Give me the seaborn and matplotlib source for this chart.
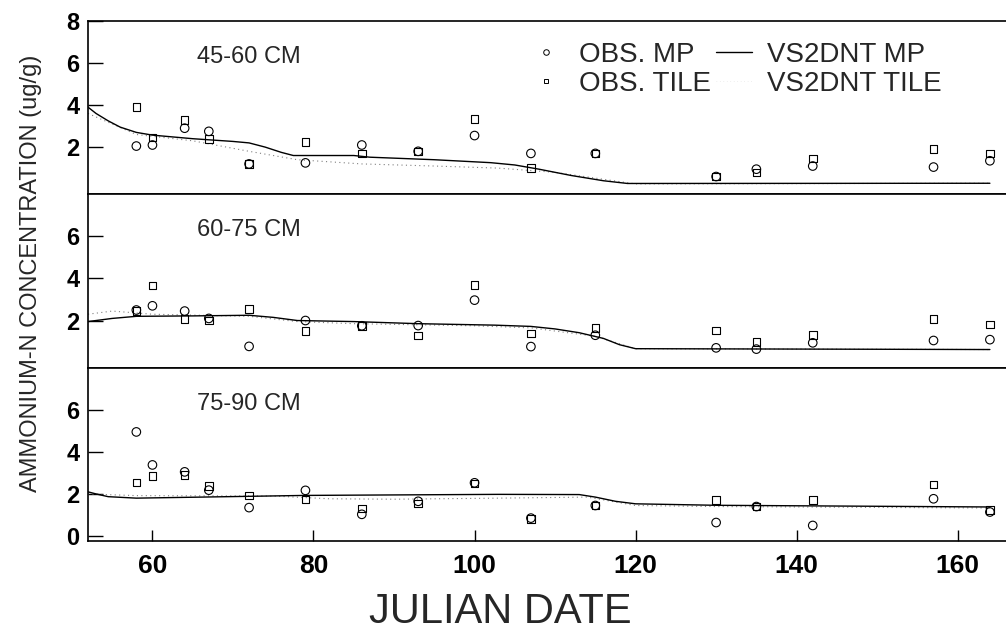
import matplotlib
matplotlib.use("Agg")
import matplotlib.pyplot as plt
import seaborn as sns
import pandas as pd
from matplotlib.lines import Line2D

# ---------------- data ----------------
obs_days = [58, 60, 64, 67, 72, 79, 86, 93, 100, 107, 115, 130, 135, 142, 157, 164]

obs_mp_45_60 = [2.05, 2.1, 2.9, 2.75, 1.2, 1.25, 2.1, 1.8, 2.55, 1.7, 1.7, 0.6, 0.95, 1.1, 1.05, 1.35]
obs_tile_45_60 = [3.9, 2.45, 3.3, 2.4, 1.2, 2.25, 1.7, 1.8, 3.35, 1.0, 1.7, 0.6, 0.8, 1.45, 1.9, 1.7]

obs_mp_60_75 = [2.5, 2.7, 2.45, 2.1, 0.77, 2.0, 1.75, 1.76, 2.97, 0.76, 1.3, 0.7, 0.64, 0.94, 1.05, 1.09]
obs_tile_60_75 = [2.45, 3.67, 2.07, 2.0, 2.55, 1.5, 1.75, 1.28, 3.7, 1.38, 1.64, 1.52, 0.98, 1.32, 2.06, 1.82]

obs_mp_75_90 = [4.95, 3.38, 3.05, 2.18, 1.35, 2.17, 1.03, 1.65, 2.53, 0.85, 1.45, 0.64, 1.4, 0.5, 1.77, 1.14]
obs_tile_75_90 = [2.54, 2.85, 2.9, 2.37, 1.93, 1.74, 1.31, 1.55, 2.5, 0.8, 1.45, 1.7, 1.4, 1.7, 2.44, 1.23]

sim_mp_days_45_60 = [52, 53, 54.5, 56, 58, 60, 65, 70, 72, 74, 76, 77.5, 85, 87, 95, 102,
                     105, 108, 112, 116, 119, 164]
sim_mp_45_60 = [3.9, 3.6, 3.25, 2.95, 2.7, 2.57, 2.4, 2.27, 2.2, 2.0, 1.75, 1.6, 1.6, 1.52,
                1.4, 1.26, 1.15, 0.95, 0.65, 0.4, 0.27, 0.28]
sim_tile_days_45_60 = [52, 58, 65, 72, 78, 86, 95, 103, 110, 120, 164]
sim_tile_45_60 = [3.6, 2.6, 2.3, 1.8, 1.4, 1.2, 1.1, 1.0, 0.8, 0.25, 0.28]

sim_mp_days_60_75 = [52, 55, 58, 65, 72, 75, 78, 85, 93, 102.5, 107, 110, 113, 116, 118, 120, 164]
sim_mp_60_75 = [1.95, 2.1, 2.2, 2.22, 2.25, 2.15, 2.0, 1.95, 1.85, 1.78, 1.72, 1.6, 1.42,
                1.15, 0.85, 0.66, 0.62]
sim_tile_days_60_75 = [52, 55, 60, 72, 78, 85, 100, 107, 115, 120, 164]
sim_tile_60_75 = [2.3, 2.45, 2.3, 2.2, 1.95, 1.85, 1.75, 1.65, 1.25, 0.66, 0.62]

sim_mp_days_75_90 = [52, 53, 54.5, 58, 79, 103, 113, 115, 117.5, 120, 130, 164]
sim_mp_75_90 = [2.1, 2.0, 1.87, 1.8, 1.93, 1.98, 1.97, 1.85, 1.65, 1.53, 1.46, 1.38]
sim_tile_days_75_90 = [52, 58, 75, 82, 90, 103, 114, 120, 130, 164]
sim_tile_75_90 = [2.0, 1.92, 1.9, 1.77, 1.75, 1.8, 1.85, 1.45, 1.4, 1.33]

panel_labels = ["45-60 CM", "60-75 CM", "75-90 CM"]
x_ticks = [60, 80, 100, 120, 140, 160]
y_ticks = [[2, 4, 6, 8], [2, 4, 6], [0, 2, 4, 6]]

panels = [
    (obs_mp_45_60, obs_tile_45_60, sim_mp_days_45_60, sim_mp_45_60, sim_tile_days_45_60, sim_tile_45_60),
    (obs_mp_60_75, obs_tile_60_75, sim_mp_days_60_75, sim_mp_60_75, sim_tile_days_60_75, sim_tile_60_75),
    (obs_mp_75_90, obs_tile_75_90, sim_mp_days_75_90, sim_mp_75_90, sim_tile_days_75_90, sim_tile_75_90),
]

# ---------------- style ----------------
sns.set_theme(style="white")
plt.rcParams["font.family"] = ["Liberation Sans", "DejaVu Sans"]

fig, axes = plt.subplots(3, 1, figsize=(10.06, 6.36), dpi=100, sharex=True)
fig.subplots_adjust(left=0.0875, right=1.0, top=0.967, bottom=0.149, hspace=0)

for i, (ax, data) in enumerate(zip(axes, panels)):
    mp, tile, smd, smv, std_, stv = data
    df_obs = pd.DataFrame({"day": obs_days, "mp": mp, "tile": tile})
    sns.lineplot(x=std_, y=stv, ax=ax, color="0.5", lw=0.8,
                 linestyle=(0, (1, 3)), estimator=None, sort=False)
    sns.lineplot(x=smd, y=smv, ax=ax, color="black", lw=1.0,
                 estimator=None, sort=False)
    sns.scatterplot(data=df_obs, x="day", y="tile", ax=ax, marker="s", s=30,
                    fc="none", ec="black", linewidth=0.8, zorder=3)
    sns.scatterplot(data=df_obs, x="day", y="mp", ax=ax, marker="o", s=38,
                    fc="none", ec="black", linewidth=0.8, zorder=3)

    ax.set_xlim(52, 166)
    ax.set_ylim(-0.25, 8)
    ax.set_yticks(y_ticks[i])
    ax.set_yticklabels([str(t) for t in y_ticks[i]], fontweight="bold")
    ax.set_xlabel("")
    ax.set_ylabel("")
    ax.tick_params(axis="y", direction="in", length=11, width=1.0,
                   labelsize=17, pad=6, left=True, colors="black")
    for side in ["left", "top", "bottom"]:
        ax.spines[side].set_visible(True)
        ax.spines[side].set_color("black")
        ax.spines[side].set_linewidth(1.2)
    ax.spines["right"].set_visible(False)
    ax.text(65.5, 6.3, panel_labels[i], fontsize=17, ha="left", va="center")
    if i < 2:
        ax.tick_params(axis="x", bottom=False, labelbottom=False)

axes[2].set_xticks(x_ticks)
axes[2].set_xticklabels([str(t) for t in x_ticks], fontweight="bold")
axes[2].tick_params(axis="x", direction="in", length=8, width=1.0,
                    labelsize=19, pad=9, bottom=True, colors="black")

# legend
handles = [
    Line2D([], [], marker="o", ls="none", mfc="none", mec="black", ms=4, mew=0.7),
    Line2D([], [], marker="s", ls="none", mfc="none", mec="black", ms=3.5, mew=0.7),
    Line2D([], [], color="black", lw=1.0),
    Line2D([], [], color="0.88", lw=0.5, ls=(0, (1, 4))),
]
labels = ["OBS. MP", "OBS. TILE", "VS2DNT MP", "VS2DNT TILE"]
axes[0].legend(handles, labels, ncol=2, frameon=False, fontsize=20,
               loc="upper left", bbox_to_anchor=(528 / 1006, 1 - 42 / 636),
               bbox_transform=fig.transFigure, borderpad=0, borderaxespad=0,
               handlelength=1.3, handletextpad=0.55, columnspacing=0.15,
               labelspacing=0.1)

fig.text(500 / 1006, 1 - 612 / 636, "JULIAN DATE", fontsize=30,
         ha="center", va="center")
fig.text(31 / 1006, 1 - 273 / 636, "AMMONIUM-N CONCENTRATION (ug/g)",
         fontsize=17, rotation=90, ha="center", va="center")

fig.savefig("out.png", dpi=100)
